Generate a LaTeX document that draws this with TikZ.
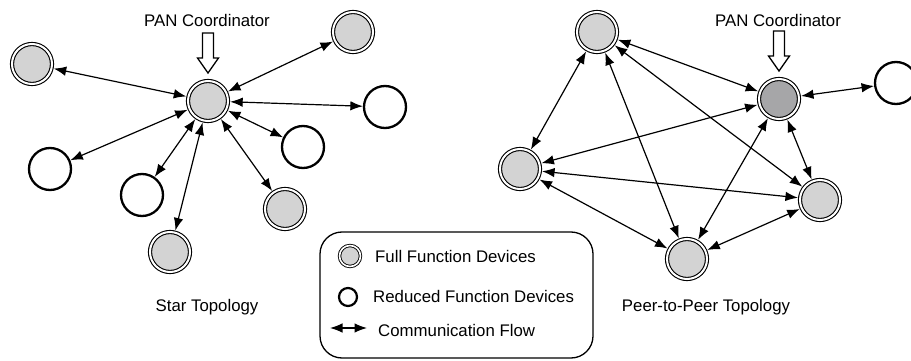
\documentclass[tikz,border=0pt]{standalone}
\usepackage{fontspec}
\setmainfont{Liberation Sans}
\usetikzlibrary{arrows.meta}
\definecolor{ffdgray}{HTML}{D3D3D3}
\definecolor{pangray}{HTML}{A6A6A8}
\tikzset{
  ffd/.style={circle, draw, double, double distance=2pt, line width=1.1pt, fill=ffdgray,
    minimum size=40pt, inner sep=0pt, outer sep=2.2pt},
  pan/.style={ffd, fill=pangray},
  rfd/.style={circle, draw, line width=2.3pt, fill=white, minimum size=42pt, inner sep=0pt, outer sep=1.15pt},
  ffdsmall/.style={ffd, minimum size=21pt, double distance=1.6pt, line width=0.9pt},
  rfdsmall/.style={rfd, minimum size=18pt, line width=2.2pt},
  flow/.style={{Latex[length=12.5pt,width=9.5pt]}-{Latex[length=12.5pt,width=9.5pt]}, line width=1.2pt},
  hollow/.style={draw, line width=1.3pt, fill=white, line join=miter},
  lbl/.style={font=\fontsize{16.8}{19}\selectfont, inner sep=0pt},
  legtxt/.style={lbl, anchor=west},
  legbox/.style={draw, line width=1.3pt, rounded corners=22pt}
}
\begin{document}
\begin{tikzpicture}[x=1pt, y=-1pt]
\useasboundingbox (0,0) rectangle (911,361);
% ---------- Star topology ----------
\node[ffd] (sc) at (208,101) {};
\node[ffd] (s1) at (32,64) {};
\node[ffd] (s2) at (353,32) {};
\node[rfd] (s3) at (385,107) {};
\node[rfd] (s4) at (303,147) {};
\node[ffd] (s5) at (285,209) {};
\node[ffd] (s6) at (170,252) {};
\node[rfd] (s7) at (142,195) {};
\node[rfd] (s8) at (50,169) {};
\foreach \n in {s1,s2,s3,s4,s5,s6,s7,s8} \draw[flow] (sc) -- (\n);
\node[lbl] (sl) at (207,20) {PAN Coordinator};
\begin{scope}[shift={(sc.center)}]
\draw[hollow] (-5.5,-68) -- (5.5,-68) -- (5.5,-43) -- (10.5,-43) -- (0,-28) -- (-10.5,-43) -- (-5.5,-43) -- cycle;
\end{scope}
\node[lbl] (st) at (207,307) {Star Topology};
% ---------- Peer-to-peer topology ----------
\node[ffd] (pt) at (597,32) {};
\node[pan] (pp) at (779,99) {};
\node[rfd] (pr) at (896,83) {};
\node[ffd] (pl) at (520,169) {};
\node[ffd] (pf) at (820,200) {};
\node[ffd] (pb) at (687,259) {};
\draw[flow] (pt) -- (pp);
\draw[flow] (pt) -- (pl);
\draw[flow] (pt) -- (pb);
\draw[flow] (pt) -- (pf);
\draw[flow] (pp) -- (pl);
\draw[flow] (pp) -- (pb);
\draw[flow] (pp) -- (pf);
\draw[flow] (pp) -- (pr);
\draw[flow] (pl) -- (pf);
\draw[flow] (pl) -- (pb);
\draw[flow] (pb) -- (pf);
\node[lbl] (pl2) at (778,20) {PAN Coordinator};
\begin{scope}[shift={(pp.center)}]
\draw[hollow] (-5.5,-68) -- (5.5,-68) -- (5.5,-43) -- (10.5,-43) -- (0,-28) -- (-10.5,-43) -- (-5.5,-43) -- cycle;
\end{scope}
\node[lbl] (ptl) at (706,307) {Peer-to-Peer Topology};
% ---------- Legend ----------
\draw[legbox] (320,232) rectangle (593,358);
\node[ffdsmall] (lf) at (350,256) {};
\node[legtxt] (lft) at (375,256) {Full Function Devices};
\node[rfdsmall] (lr) at (348,297) {};
\node[legtxt] (lrt) at (373,296) {Reduced Function Devices};
\coordinate (la) at (330,328);
\coordinate (lb) at (367,328);
\draw[flow] (la) -- (lb);
\node[legtxt] (lat) at (378,330) {Communication Flow};
\end{tikzpicture}
\end{document}
